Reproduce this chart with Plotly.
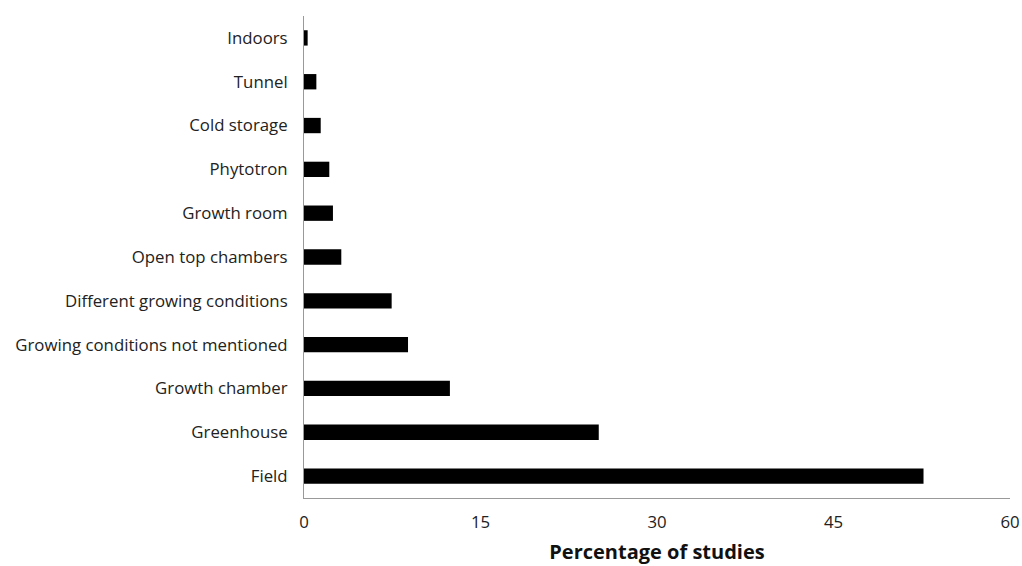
import plotly.graph_objects as go

categories = ["Field", "Greenhouse", "Growth chamber", "Growing conditions not mentioned",
              "Different growing conditions", "Open top chambers", "Growth room",
              "Phytotron", "Cold storage", "Tunnel", "Indoors"]
percentages = [52.65, 25.05, 12.4, 8.84, 7.45, 3.17, 2.46, 2.15, 1.42, 1.05, 0.31]
x_ticks = [0, 15, 30, 45, 60]

fig = go.Figure(go.Bar(
    x=percentages, y=categories, orientation="h",
    marker=dict(color="black", line=dict(width=0)),
    width=0.35,
))

fig.update_layout(
    width=1022, height=566,
    margin=dict(l=304, r=12, t=16, b=68),
    plot_bgcolor="white", paper_bgcolor="white",
    font=dict(family="Open Sans", size=16.8, color="#222"),
    showlegend=False,
    xaxis=dict(
        range=[0, 60], tickvals=x_ticks, showgrid=False, zeroline=False,
        showline=True, linecolor="#999", linewidth=1, ticks="",
        ticklabelstandoff=9, automargin=False,
        title=dict(text="<b>Percentage of studies</b>", font=dict(size=20, color="#111"), standoff=12),
    ),
    yaxis=dict(
        categoryorder="array", categoryarray=categories,
        range=[-0.5, 10.5], showgrid=False, zeroline=False,
        showline=True, linecolor="#999", linewidth=1, ticks="",
        ticklabelstandoff=12, automargin=False,
    ),
)

fig.write_html("out.html",
               config={"displayModeBar": False},
               post_script="document.body.style.margin='0';document.body.style.overflow='hidden';")
